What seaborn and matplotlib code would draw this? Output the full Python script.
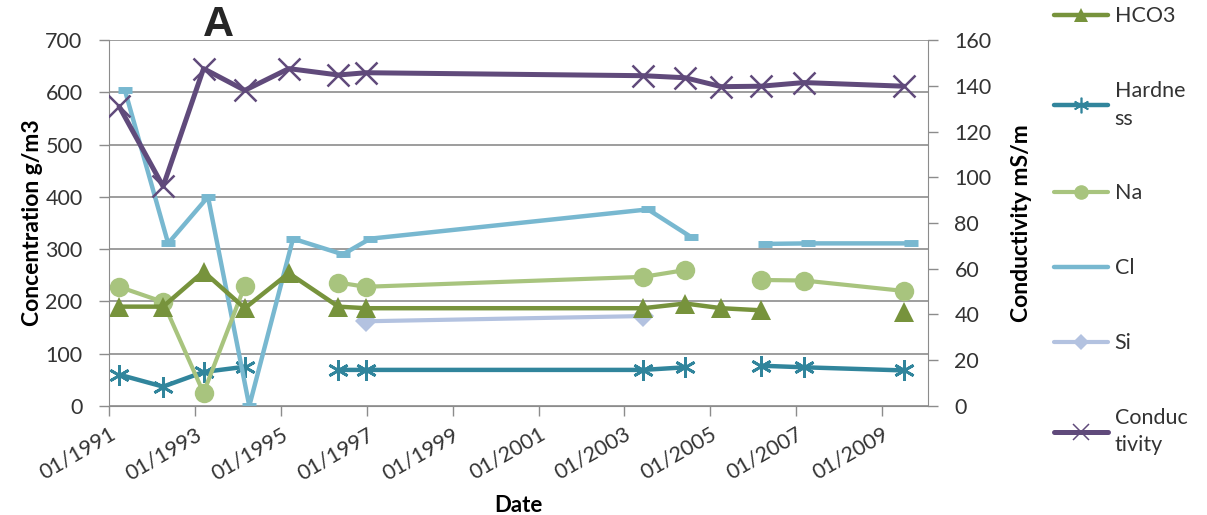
import numpy as np
import pandas as pd
import matplotlib
matplotlib.use("Agg")
import matplotlib.pyplot as plt
import matplotlib.dates as mdates
from matplotlib.lines import Line2D
import seaborn as sns

# sampling dates (shared by most series)
dates = ["1991-03-28", "1992-04-05", "1993-03-15", "1994-03-01", "1995-03-10",
         "1996-05-05", "1996-12-24", "2003-06-10", "2004-06-01", "2005-04-05",
         "2006-03-07", "2007-03-07", "2009-07-05"]
# Cl samples sit a little later on the axis
cl_dates = ["1991-05-15", "1992-05-18", "1993-04-22", "1994-04-08", "1995-04-15",
            "1996-06-12", "1997-01-30", "2003-07-20", "2004-07-22", "2005-05-01",
            "2006-04-08", "2007-04-15", "2009-08-30"]

hco3 = [190, 190, 257, 187, 254, 190, 187, 187, 196, 187, 183, np.nan, 180]
hardness = [60, 37, 65, 75, np.nan, 69, 69, 69, 74, np.nan, 77, 74, 68]
na = [228, 199, 25, 230, np.nan, 236, 228, 247, 260, np.nan, 241, 240, 220]
cl = [605, 311, 400, 0, 320, 290, 320, 376, 323, np.nan, 310, 311, 311]
si = [np.nan, np.nan, np.nan, np.nan, np.nan, np.nan, 162, 172, np.nan, np.nan,
      np.nan, np.nan, np.nan]
conductivity = [131, 96, 147.5, 138, 147.5, 144.7, 145.7, 144.4, 143.5, 139.6,
                139.8, 141.4, 139.8]

labels = ["HCO3", "Hardne\nss", "Na", "Cl", "Si", "Conduc\ntivity"]

sns.set_style("white")
plt.rcParams['font.family'] = ['Lato', 'DejaVu Sans']

txt = "#333333"
grid = "#8c8c8c"

styles = {
    "HCO3": dict(color="#77933C", marker="^", ms=14, lw=3.2, mew=0),
    "Hardness": dict(color="#31859C", marker=(6, 2, 0), ms=15, lw=3.2, mew=2),
    "Na": dict(color="#A8C47E", marker="o", ms=14, lw=3.0, mew=0),
    "Cl": dict(color="#78B8D0", marker="_", ms=10, lw=3.2, mew=5),
    "Si": dict(color="#B3C2E0", marker="D", ms=11, lw=3.0, mew=0),
    "Conductivity": dict(color="#604A7B", marker="x", ms=16, lw=3.6, mew=1.8),
}


def series_frame(d, vals):
    df = pd.DataFrame({"date": pd.to_datetime(d), "value": vals})
    # split at missing values so the line breaks there
    df["seg"] = df["value"].isna().cumsum()
    return df.dropna()


def draw(ax, d, vals, name):
    st = styles[name]
    df = series_frame(d, vals)
    sns.lineplot(data=df, x="date", y="value", units="seg", estimator=None,
                 color=st["color"], marker=st["marker"], markersize=st["ms"],
                 linewidth=st["lw"], markeredgewidth=st["mew"],
                 markeredgecolor=st["color"], ax=ax, legend=False)


fig = plt.figure(figsize=(12.07, 5.15), dpi=100)
ax = fig.add_axes([0.0903, 0.2117, 0.6786, 0.7106])
ax2 = ax.twinx()

draw(ax, dates, hardness, "Hardness")
draw(ax, dates, si, "Si")
draw(ax, cl_dates, cl, "Cl")
draw(ax, dates, na, "Na")
draw(ax, dates, hco3, "HCO3")
draw(ax2, dates, conductivity, "Conductivity")

ax.set_xlim(pd.Timestamp("1991-01-01"), pd.Timestamp("2010-01-26"))
ax.set_ylim(0, 700)
ax2.set_ylim(0, 160)
ax.set_yticks(np.arange(0, 701, 100))
ax2.set_yticks(np.arange(0, 161, 20))
ax.set_xticks(pd.date_range("1991-01-01", "2009-01-01", freq="2YS"))
ax.xaxis.set_major_formatter(mdates.DateFormatter("%m/%Y"))

ax.yaxis.grid(True, color=grid, lw=1.2)
ax.set_axisbelow(True)
for a in (ax, ax2):
    for s in a.spines.values():
        s.set_color(grid)
    a.spines["top"].set_visible(False)
ax.spines["right"].set_visible(False)
ax2.spines["left"].set_visible(False)
ax2.spines["bottom"].set_visible(False)

ax.tick_params(axis="both", which="major", length=7, width=1, color=grid,
               labelsize=15.5, labelcolor=txt, direction="out")
ax.tick_params(axis="y", pad=12, left=True)
ax.tick_params(axis="x", pad=6, bottom=True)
ax2.tick_params(axis="y", length=7, width=1, color=grid, labelsize=15.5,
                labelcolor=txt, direction="out", pad=12, right=True)
for lab in ax.get_xticklabels():
    lab.set_rotation(30)
    lab.set_ha("right")
    lab.set_rotation_mode("anchor")

ax.set_xlabel("Date", fontsize=16, fontweight="bold", color="black", labelpad=8)
ax.set_ylabel("Concentration g/m3", fontsize=16.5, fontweight="bold", color="black", labelpad=2)
ax2.set_ylabel("Conductivity mS/m", fontsize=16.5, fontweight="bold", color="black", labelpad=14)

fig.text(218 / 1207, 1 - 25 / 515, "A", fontsize=31, fontweight="bold",
         family="Liberation Sans", ha="center", va="center")

order = ["HCO3", "Hardness", "Na", "Cl", "Si", "Conductivity"]
handles = []
for name in order:
    st = styles[name]
    mk = None if name == "Cl" else st["marker"]
    handles.append(Line2D([], [], color=st["color"], lw=st["lw"], marker=mk,
                          markersize=st["ms"] * 0.75, markeredgewidth=st["mew"] * 0.6,
                          markeredgecolor=st["color"]))
leg = fig.legend(handles, labels, loc="upper left", bbox_to_anchor=(1048 / 1207, 1.0),
                 frameon=False, fontsize=15.5, labelcolor=txt, handlelength=2.5,
                 handletextpad=0.3, labelspacing=2.55, borderaxespad=0.0, borderpad=0.3)
for t in leg.get_texts():
    t.set_linespacing(1.45)

fig.savefig("out.png", dpi=100)
